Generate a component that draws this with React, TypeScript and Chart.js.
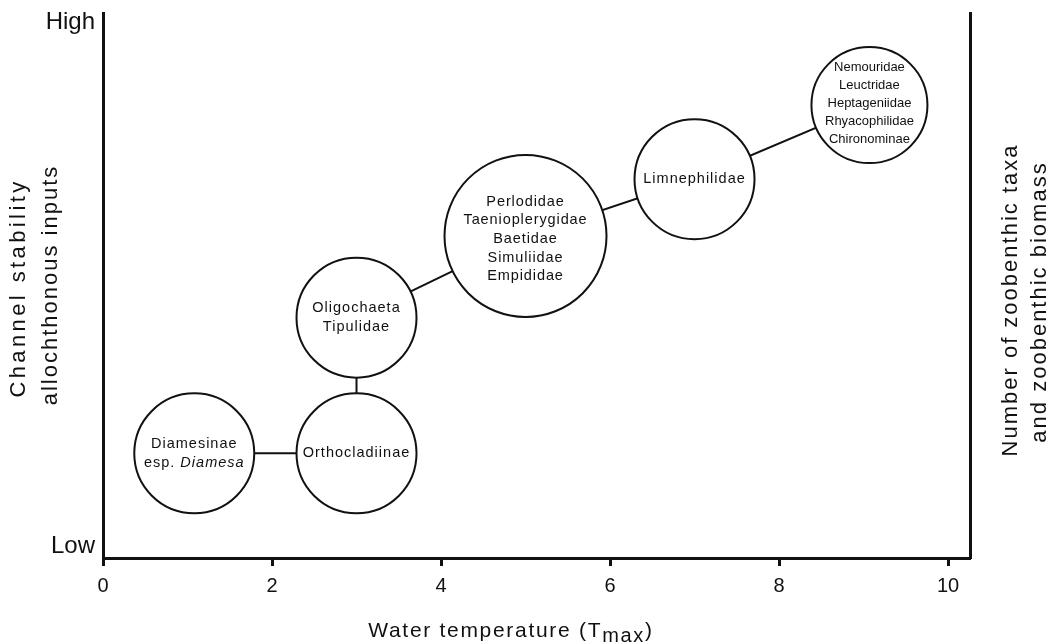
import React, { useEffect, useRef } from 'react';
import { Chart, registerables } from 'chart.js';

Chart.register(...registerables);

const FONT = '"Liberation Sans", Arial, Helvetica, sans-serif';

// ---- data ----
const groupLabels: string[][] = [
  ['Diamesinae', 'esp. *Diamesa*'],
  ['Orthocladiinae'],
  ['Oligochaeta', 'Tipulidae'],
  ['Perlodidae', 'Taenioplerygidae', 'Baetidae', 'Simuliidae', 'Empididae'],
  ['Limnephilidae'],
  ['Nemouridae', 'Leuctridae', 'Heptageniidae', 'Rhyacophilidae', 'Chironominae'],
];
const waterTemperature = [1.08, 3.0, 3.0, 5.0, 7.0, 9.07];
const channelStability = [1.92, 1.92, 4.41, 5.91, 6.95, 8.31];
const circleRadius = [60, 60, 60, 81, 60, 58];
const xTickValues = [0, 2, 4, 6, 8, 10];
const yTickValues = [0.22, 9.83];
const yTickLabels = ['Low', 'High'];
const xTitleParts = ['Water temperature (T', 'max', ')'];
const leftTitle = ['Channel stability', 'allochthonous inputs'];
const rightTitle = ['Number of zoobenthic taxa', 'and zoobenthic biomass'];

// ---- label styles (per circle) ----
const labelStyles = [
  { size: 14.5, spacing: 1, lineHeight: 18.5, dy: 0 },
  { size: 14.5, spacing: 1, lineHeight: 18.5, dy: 0 },
  { size: 14.5, spacing: 1, lineHeight: 18.5, dy: 0 },
  { size: 14.5, spacing: 0.9, lineHeight: 18.7, dy: 3 },
  { size: 14.5, spacing: 1, lineHeight: 18.5, dy: 0 },
  { size: 13, spacing: 0, lineHeight: 18, dy: -2 },
];

function drawMixed(ctx: any, line: string, cx: number, y: number, size: number, spacing: number) {
  const parts = line
    .split('*')
    .map((t, k) => ({ t, italic: k % 2 === 1 }))
    .filter((p) => p.t.length > 0);
  ctx.letterSpacing = spacing + 'px';
  const fonts = parts.map((p) => `${p.italic ? 'italic ' : ''}${size}px ${FONT}`);
  let total = 0;
  const widths = parts.map((p, k) => {
    ctx.font = fonts[k];
    const w = ctx.measureText(p.t).width;
    total += w;
    return w;
  });
  let x = cx - total / 2;
  ctx.textAlign = 'left';
  parts.forEach((p, k) => {
    ctx.font = fonts[k];
    ctx.fillText(p.t, x, y);
    x += widths[k];
  });
  ctx.letterSpacing = '0px';
}

const circleLabelPlugin = {
  id: 'circleLabels',
  afterDatasetsDraw(chart: any) {
    const meta = chart.getDatasetMeta(1);
    const ctx = chart.ctx;
    ctx.save();
    ctx.fillStyle = '#111';
    ctx.textBaseline = 'middle';
    meta.data.forEach((el: any, i: number) => {
      const st = labelStyles[i];
      const lines = groupLabels[i];
      lines.forEach((line, j) => {
        const y = el.y + st.dy + (j - (lines.length - 1) / 2) * st.lineHeight;
        drawMixed(ctx, line, el.x, y, st.size, st.spacing);
      });
    });
    ctx.restore();
  },
};

function drawRotated(ctx: any, text: string, x: number, y: number, size: number, spacing: number) {
  ctx.save();
  ctx.translate(x, y);
  ctx.rotate(-Math.PI / 2);
  ctx.font = `${size}px ${FONT}`;
  ctx.letterSpacing = spacing + 'px';
  ctx.textAlign = 'center';
  ctx.textBaseline = 'alphabetic';
  ctx.fillText(text, 0, 0);
  ctx.restore();
}

const axisTitlePlugin = {
  id: 'axisTitles',
  afterDraw(chart: any) {
    const ctx = chart.ctx;
    ctx.save();
    ctx.fillStyle = '#111';
    // left titles
    drawRotated(ctx, leftTitle[0], 25, 288, 22, 3.4);
    drawRotated(ctx, leftTitle[1], 57, 285, 22, 2);
    // right titles
    drawRotated(ctx, rightTitle[0], 1017, 300, 22, 2);
    drawRotated(ctx, rightTitle[1], 1046, 302, 22, 2);
    // x title with subscript
    const size = 21;
    const spacing = 1.7;
    ctx.letterSpacing = spacing + 'px';
    ctx.textBaseline = 'alphabetic';
    ctx.textAlign = 'left';
    const fonts = [`${size}px ${FONT}`, `${size - 1}px ${FONT}`, `${size}px ${FONT}`];
    const offsets = [0, 5, 0];
    let total = 0;
    const widths = xTitleParts.map((t, k) => {
      ctx.font = fonts[k];
      const w = ctx.measureText(t).width;
      total += w;
      return w;
    });
    let x = 511 - total / 2;
    xTitleParts.forEach((t, k) => {
      ctx.font = fonts[k];
      ctx.fillText(t, x, 637 + offsets[k]);
      x += widths[k];
    });
    ctx.letterSpacing = '0px';
    ctx.restore();
  },
};

export default function App() {
  const ref = useRef<HTMLCanvasElement>(null);
  useEffect(() => {
    document.body.style.margin = '0';
    const points = waterTemperature.map((x, i) => ({ x, y: channelStability[i] }));
    const bubbles = waterTemperature.map((x, i) => ({ x, y: channelStability[i], r: circleRadius[i] }));
    const chart = new Chart(ref.current as HTMLCanvasElement, {
      type: 'bubble',
      data: {
        datasets: [
          {
            type: 'line',
            data: points,
            borderColor: '#111',
            borderWidth: 2,
            pointRadius: 0,
            fill: false,
            tension: 0,
            order: 2,
          } as any,
          {
            type: 'bubble',
            data: bubbles,
            backgroundColor: '#fff',
            borderColor: '#111',
            borderWidth: 2,
            hoverRadius: 0,
            order: 1,
          } as any,
        ],
      },
      options: {
        responsive: false,
        animation: false,
        devicePixelRatio: 1,
        events: [],
        layout: { autoPadding: false, padding: { top: 13, left: 0, right: 0, bottom: 0 } },
        plugins: { legend: { display: false }, tooltip: { enabled: false } },
        scales: {
          x: {
            type: 'linear',
            position: 'bottom',
            min: 0,
            max: 10.26,
            afterBuildTicks: (s: any) => {
              s.ticks = xTickValues.map((v) => ({ value: v }));
            },
            afterFit: (s: any) => {
              s.height = 86;
              s.paddingLeft = 0;
              s.paddingRight = 0;
            },
            grid: {
              display: true,
              drawOnChartArea: false,
              drawTicks: true,
              tickLength: 8,
              tickWidth: 3,
              tickColor: '#111',
            },
            border: { display: true, width: 3, color: '#111' },
            ticks: {
              color: '#111',
              font: { family: FONT, size: 20 },
              padding: 8,
              maxRotation: 0,
            },
          },
          y: {
            type: 'linear',
            position: 'left',
            min: 0,
            max: 10,
            afterBuildTicks: (s: any) => {
              s.ticks = yTickValues.map((v) => ({ value: v }));
            },
            afterFit: (s: any) => {
              s.width = 103;
              s.paddingTop = 0;
              s.paddingBottom = 0;
            },
            grid: { display: false, drawTicks: false },
            border: { display: true, width: 3, color: '#111' },
            ticks: {
              color: '#111',
              font: { family: FONT, size: 24 },
              padding: 8,
              callback: (v: any) => {
                const i = yTickValues.indexOf(Number(v));
                return i >= 0 ? yTickLabels[i] : '';
              },
            },
          },
          y2: {
            type: 'linear',
            position: 'right',
            min: 0,
            max: 10,
            afterFit: (s: any) => {
              s.width = 79;
              s.paddingTop = 0;
              s.paddingBottom = 0;
            },
            grid: { display: false, drawTicks: false },
            border: { display: true, width: 3, color: '#111' },
            ticks: { display: false },
          },
        },
      } as any,
      plugins: [circleLabelPlugin, axisTitlePlugin],
    });
    return () => chart.destroy();
  }, []);
  return (
    <div style={{ width: 1049, height: 644, background: '#fff' }}>
      <canvas ref={ref} width={1049} height={644} style={{ display: 'block' }} />
    </div>
  );
}
